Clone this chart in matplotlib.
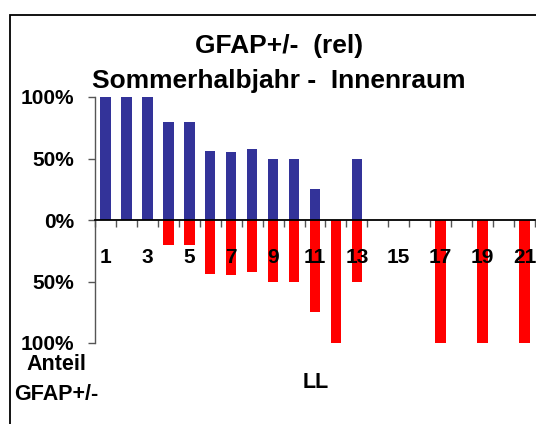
import matplotlib
matplotlib.use("Agg")
import matplotlib.pyplot as plt
from matplotlib.patches import Rectangle
from matplotlib.ticker import FuncFormatter, FixedLocator

plt.rcParams['font.family'] = ['Liberation Sans', 'DejaVu Sans']

categories = list(range(1, 22))
gfap_plus = [100, 100, 100, 80, 80, 56, 55, 58, 50, 50, 25, 0, 50, 0, 0, 0, 0, 0, 0, 0, 0]
gfap_minus = [0, 0, 0, 20, 20, 44, 45, 42, 50, 50, 75, 100, 50, 0, 0, 0, 100, 0, 100, 0, 100]
x_tick_labels = [str(c) for c in categories if c % 2 == 1]
y_ticks = [-100, -50, 0, 50, 100]

title1 = "GFAP+/-  (rel)"
title2 = "Sommerhalbjahr -  Innenraum"

W, H = 536, 424
fig = plt.figure(figsize=(W / 100, H / 100), dpi=100)
ax = fig.add_axes([95 / W, 1 - 343 / H, (535 - 95) / W, (343 - 97) / H])

ax.bar(categories, gfap_plus, width=0.5, color='#333399', zorder=1)
ax.bar(categories, [-v for v in gfap_minus], width=0.5, color='#FF0000', zorder=1)

ax.set_xlim(0.5, 21.5)
ax.set_ylim(-100, 100)

for s in ['top', 'right']:
    ax.spines[s].set_visible(False)
ax.spines['bottom'].set_position(('data', 0))
ax.spines['bottom'].set_color('black')
ax.spines['bottom'].set_linewidth(1.3)
ax.spines['left'].set_color('#555555')
ax.spines['left'].set_linewidth(1.0)

# boundary ticks (major, no labels) and labels at odd categories (minor)
ax.xaxis.set_major_locator(FixedLocator([c - 0.5 for c in categories] + [21.5]))
ax.xaxis.set_major_formatter(FuncFormatter(lambda v, p: ''))
odd_pos = [c for c in categories if c % 2 == 1]
ax.set_xticks(odd_pos, minor=True)
ax.set_xticklabels(x_tick_labels, minor=True)
ax.tick_params(axis='x', which='major', direction='out', length=5, width=1.0, color='#555555')
ax.tick_params(axis='x', which='minor', length=0, pad=20, labelsize=15)
for t in ax.xaxis.get_minorticklabels():
    t.set_fontweight('bold')

ax.set_yticks(y_ticks)
ax.yaxis.set_major_formatter(FuncFormatter(lambda v, p: f"{abs(int(v))}%"))
ax.tick_params(axis='y', direction='out', length=5, width=1.0, color='#555555', pad=10, labelsize=15)
for t in ax.get_yticklabels():
    t.set_fontweight('bold')

fig.text(279 / W, 1 - 46 / H, title1, ha='center', va='center', fontsize=19, fontweight='bold')
fig.text(279 / W, 1 - 81 / H, title2, ha='center', va='center', fontsize=19, fontweight='bold')

fig.text(56 / W, 1 - 365 / H, "Anteil", ha='center', va='center', fontsize=15.5, fontweight='bold')
fig.text(56 / W, 1 - 395 / H, "GFAP+/-", ha='center', va='center', fontsize=15.5, fontweight='bold')
fig.text(316 / W, 1 - 383 / H, "LL", ha='center', va='center', fontsize=15.5, fontweight='bold')

border = Rectangle((10 / W, -0.5), 2.0, 1 - 15 / H + 0.5, transform=fig.transFigure,
                   fill=False, edgecolor='black', linewidth=1.3)
fig.patches.append(border)

fig.savefig("out.png", dpi=100)
